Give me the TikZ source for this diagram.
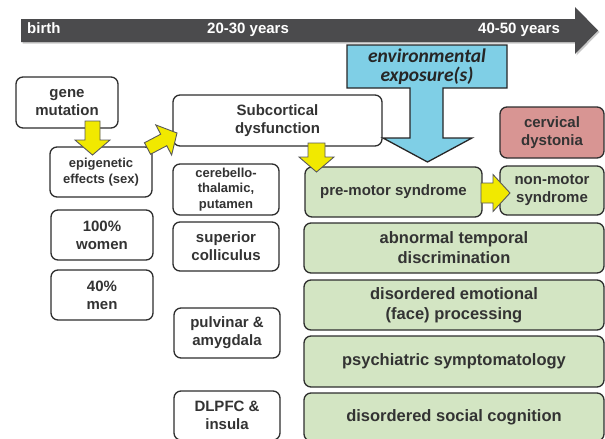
\documentclass[tikz,border=0pt]{standalone}
\usepackage{fontspec}
\setmainfont{Liberation Sans}
\newfontfamily\envfont{Carlito}
\usetikzlibrary{calc}
\definecolor{tlgray}{HTML}{4B4B4D}
\definecolor{boxline}{HTML}{2E2E2E}
\definecolor{txt}{HTML}{333333}
\definecolor{greenfill}{HTML}{D3E5C3}
\definecolor{pinkfill}{HTML}{D89593}
\definecolor{bluefill}{HTML}{7FCFE6}
\definecolor{yel}{HTML}{F1E900}
\tikzset{
  basebox/.style={draw=boxline, line width=1.3pt, rounded corners=7pt, align=center,
    inner sep=0pt, text=txt, font=\bfseries\fontsize{15}{18}\selectfont},
  wbox/.style={basebox, fill=white},
  smallbox/.style={basebox, fill=white, font=\bfseries\fontsize{13}{15.5}\selectfont},
  gbox/.style={basebox, fill=greenfill},
  bigg/.style={basebox, fill=greenfill, font=\bfseries\fontsize{16.5}{20}\selectfont},
  pbox/.style={basebox, fill=pinkfill},
  tltext/.style={text=white, font=\bfseries\fontsize{15}{18}\selectfont, inner sep=0pt, anchor=base west},
  yarrow/.style={fill=yel, draw=black!65, line width=0.9pt, line join=miter},
}
\newcommand\fatarrow[5]{%
  \coordinate (fa-h) at ($(#2)!#5!(#1)$);
  \filldraw[yarrow] ($(#1)!#3!90:(#2)$) -- ($(fa-h)!#3!90:(#2)$) -- ($(fa-h)!#4!90:(#2)$) -- (#2)
    -- ($(fa-h)!#4!-90:(#2)$) -- ($(fa-h)!#3!-90:(#2)$) -- ($(#1)!#3!-90:(#2)$) -- cycle;
}
\begin{document}
\begin{tikzpicture}[x=1pt,y=-1pt]
\useasboundingbox (0,0) rectangle (605,439);
% timeline
\fill[black!22] (22.5,20.5) -- (576.5,20.5) -- (576.5,8.5) -- (599.5,32) -- (576.5,55.5) -- (576.5,43.5) -- (22.5,43.5) -- cycle;
\fill[tlgray] (21,19) -- (575,19) -- (575,7) -- (598,30.5) -- (575,54) -- (575,42) -- (21,42) -- cycle;
\node[tltext] (birth) at (27,33.5) {birth};
\node[tltext] (y2030) at (207,33.5) {20-30 years};
\node[tltext] (y4050) at (478,33.5) {40-50 years};

% left column
\node[wbox, minimum width=102pt, minimum height=51pt] (gene) at (67,102.5) {gene\\mutation};
\node[smallbox, minimum width=102pt, minimum height=50pt] (epi) at (101,172) {epigenetic\\effects (sex)};
\node[wbox, minimum width=102pt, minimum height=50pt] (women) at (102,235) {100\%\\women};
\node[wbox, minimum width=102pt, minimum height=50pt] (men) at (102,295) {40\%\\men};

% middle column
\node[wbox, minimum width=209pt, minimum height=51pt] (subc) at (277.5,120.5) {Subcortical\\dysfunction};
\node[smallbox, minimum width=106pt, minimum height=51pt] (cereb) at (226,189.5) {cerebello-\\thalamic,\\putamen};
\node[wbox, minimum width=106pt, minimum height=49pt] (sup) at (226,246.5) {superior\\colliculus};
\node[wbox, minimum width=106pt, minimum height=50pt] (pulv) at (227,333) {pulvinar \&\\amygdala};
\node[wbox, minimum width=106pt, minimum height=49pt] (dlpfc) at (227,415.5) {DLPFC \&\\insula};

% right column
\node[gbox, minimum width=177pt, minimum height=50pt] (premotor) at (393.5,192) {pre-motor syndrome};
\node[gbox, minimum width=104pt, minimum height=49pt] (nonmotor) at (552,190.5) {non-motor\\syndrome};
\node[pbox, minimum width=104pt, minimum height=51pt] (cervical) at (552,132.5) {cervical\\dystonia};
\node[bigg, minimum width=300pt, minimum height=50pt] (temporal) at (454,248) {abnormal temporal\\discrimination};
\node[bigg, minimum width=300pt, minimum height=50pt] (emotional) at (454,305) {disordered emotional\\(face) processing};
\node[bigg, minimum width=300pt, minimum height=51pt] (psych) at (454,361.5) {psychiatric symptomatology};
\node[bigg, minimum width=300pt, minimum height=48pt] (social) at (454,417) {disordered social cognition};

% environmental exposure arrow
\filldraw[fill=bluefill, draw=black!85, line width=1.3pt, line join=miter]
  (347,45) -- (507,45) -- (507,88) -- (443,88) -- (443,138) -- (472,138) -- (427.5,162)
  -- (383,138) -- (410,138) -- (410,88) -- (347,88) -- cycle;
\node[inner sep=0pt, align=center, text=black!85, font=\envfont\bfseries\itshape\fontsize{19.5}{19}\selectfont] (env) at (427,66.5) {environmental\\exposure(s)};

% yellow arrows
\coordinate (a1s) at (92.5,121);
\coordinate (a1t) at (92.5,155);
\coordinate (a2s) at (147.5,148.5);
\coordinate (a2t) at (177,133);
\coordinate (a3s) at (316.5,143);
\coordinate (a3t) at (316.5,172);
\coordinate (a4s) at (481,193);
\coordinate (a4t) at (510,193);
\fatarrow{a1s}{a1t}{7.5pt}{17.5pt}{15pt}
\fatarrow{a2s}{a2t}{6.5pt}{17pt}{15pt}
\fatarrow{a3s}{a3t}{8.5pt}{17.5pt}{15pt}
\fatarrow{a4s}{a4t}{10pt}{18.5pt}{17pt}
\end{tikzpicture}
\end{document}
